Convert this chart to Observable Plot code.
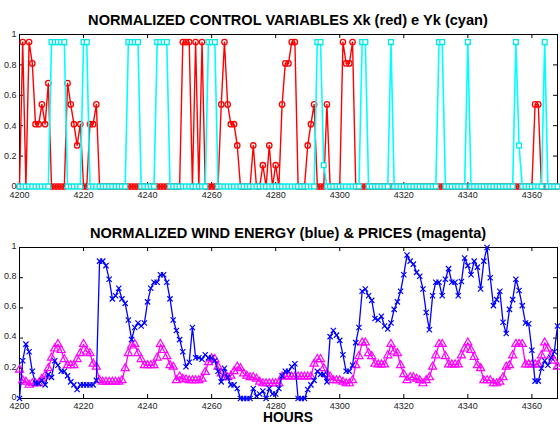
<!DOCTYPE html>
<html><head><meta charset="utf-8">
<script src="https://cdn.jsdelivr.net/npm/d3@7"></script>
<script src="https://cdn.jsdelivr.net/npm/@observablehq/plot@0.6"></script>
<style>
html,body{margin:0;padding:0;background:#fff;}
#chart{position:relative;width:560px;height:425px;overflow:hidden;background:#fff;font-family:"Liberation Sans",Arial,sans-serif;}
#chart .panel{position:absolute;left:0;}
.title{position:absolute;left:0;width:576px;text-align:center;font-weight:bold;font-size:14.6px;line-height:14.6px;white-space:nowrap;color:#000;}
.title.xlab{font-size:13.8px;line-height:13.8px;}
</style></head><body><div id="chart"></div>
<script>
// ---------- data ----------
const startHour = 4200;
const xTicks = [4200, 4220, 4240, 4260, 4280, 4300, 4320, 4340, 4360];
const yTicks = [0, 0.2, 0.4, 0.6, 0.8, 1];
const yTickLabels = ["0", "0.2", "0.4", "0.6", "0.8", "1"];

const topTitle = "NORMALIZED CONTROL VARIABLES Xk (red) e Yk (cyan)";
const bottomTitle = "NORMALIZED WIND ENERGY (blue) & PRICES (magenta)";
const xLabel = "HOURS";

// Xk (red), hours 4200..4368
const xk = [
  0, 0.95, 0, 0.95, 0.81, 0.41, 0.41, 0.54, 0.41, 0.68,          // 4200-4209
  0, 0, 0, 0, 0, 0.68, 0.54, 0.41, 0.27, 0.41,                    // 4210-4219
  0, 0, 0.41, 0.41, 0.54, 0, 0, 0, 0, 0,                          // 4220-4229
  0, 0, 0, 0, 0, 0, 0, 0, 0, 0,                                   // 4230-4239
  0, 0, 0, 0, 0, 0, 0, 0, 0, 0,                                   // 4240-4249
  0, 0.95, 0.95, 0.95, 0, 0.95, 0, 0.95, 0, 0,                    // 4250-4259
  0, 0, 0, 0.54, 0.95, 0.54, 0.41, 0.41, 0.27, 0,                 // 4260-4269
  0, 0, 0, 0.27, 0, 0, 0.14, 0, 0.27, 0,                          // 4270-4279
  0.14, 0, 0.54, 0.81, 0.81, 0.95, 0.95, 0, 0, 0,                 // 4280-4289
  0.27, 0.41, 0.54, 0, 0, 0, 0.54, 0, 0, 0,                       // 4290-4299
  0, 0.95, 0.81, 0.81, 0.95, 0, 0, 0, 0, 0,                       // 4300-4309
  0, 0, 0, 0, 0, 0, 0, 0, 0, 0,                                   // 4310-4319
  0, 0, 0, 0, 0, 0, 0, 0, 0, 0,                                   // 4320-4329
  0, 0, 0, 0, 0, 0, 0, 0, 0, 0,                                   // 4330-4339
  0, 0, 0, 0, 0, 0, 0, 0, 0, 0,                                   // 4340-4349
  0, 0, 0, 0, 0, 0, 0, 0, 0, 0,                                   // 4350-4359
  0, 0.54, 0.54, 0, 0, 0, 0, 0, 0                                 // 4360-4368
];

// Yk (cyan)
const yk = [
  0, 0, 0, 0, 0, 0, 0, 0, 0, 0,                                   // 4200
  0.95, 0.95, 0.95, 0.95, 0.95, 0, 0, 0, 0, 0,                    // 4210
  0.95, 0.95, 0, 0, 0, 0, 0, 0, 0, 0,                             // 4220
  0, 0, 0, 0, 0.95, 0.95, 0.95, 0.95, 0, 0,                       // 4230
  0, 0, 0, 0.95, 0.95, 0.95, 0.95, 0, 0, 0,                       // 4240
  0, 0, 0, 0, 0, 0, 0, 0, 0, 0.95,                                // 4250
  0.95, 0.95, 0, 0, 0, 0, 0, 0, 0, 0,                             // 4260
  0, 0, 0, 0, 0, 0, 0, 0, 0, 0,                                   // 4270
  0, 0, 0, 0, 0, 0, 0, 0, 0, 0,                                   // 4280
  0, 0, 0, 0.95, 0.95, 0.14, 0, 0, 0, 0,                          // 4290
  0, 0, 0, 0, 0, 0, 0, 0.95, 0.95, 0,                             // 4300
  0, 0, 0, 0, 0, 0, 0.95, 0, 0, 0,                                // 4310
  0, 0, 0, 0, 0, 0, 0, 0, 0, 0,                                   // 4320
  0, 0.95, 0.95, 0, 0, 0, 0, 0, 0, 0,                             // 4330
  0.95, 0, 0, 0, 0, 0, 0, 0, 0, 0,                                // 4340
  0, 0, 0, 0, 0, 0.95, 0.27, 0, 0, 0,                             // 4350
  0, 0, 0, 0, 0.95, 0, 0, 0, 0                                    // 4360
];

// normalized wind energy (blue)
const wind = [
  0, 0.25, 0.36, 0.31, 0.18, 0.10, 0.10, 0.12, 0.09, 0.16,        // 4200
  0.14, 0.25, 0.22, 0.18, 0.18, 0.15, 0.11, 0.09, 0.06, 0.09,     // 4210
  0.09, 0.09, 0.09, 0.09, 0.12, 0.91, 0.91, 0.88, 0.79, 0.66,     // 4220
  0.68, 0.73, 0.66, 0.63, 0.52, 0.39, 0.47, 0.50, 0.48, 0.50,     // 4230
  0.64, 0.73, 0.77, 0.77, 0.82, 0.82, 0.77, 0.66, 0.52, 0.45,     // 4240
  0.39, 0.31, 0.21, 0.24, 0.47, 0.27, 0.27, 0.26, 0.29, 0.27,     // 4250
  0.27, 0.25, 0.18, 0.11, 0.20, 0.14, 0.09, 0.09, 0.066, 0,       // 4260
  0, 0, 0, 0.066, 0.015, 0.03, 0.05, 0, 0.066, 0.03,              // 4270
  0.03, 0.066, 0.15, 0.18, 0.18, 0.21, 0.23, 0, 0, 0,             // 4280
  0.06, 0.09, 0.12, 0.18, 0.16, 0.16, 0.11, 0.41, 0.45, 0.42,     // 4290
  0.385, 0.29, 0.18, 0.18, 0.22, 0.37, 0.47, 0.71, 0.725, 0.68,   // 4300
  0.65, 0.53, 0.52, 0.545, 0.48, 0.46, 0.50, 0.59, 0.64, 0.71,    // 4310
  0.82, 0.95, 0.91, 0.89, 0.835, 0.81, 0.725, 0.57, 0.455, 0.68,  // 4320
  0.77, 0.77, 0.68, 0.79, 0.86, 0.77, 0.77, 0.68, 0.775, 0.93,    // 4330
  0.88, 0.82, 0.91, 0.87, 0.725, 0.91, 1.0, 0.80, 0.615, 0.655,   // 4340
  0.71, 0.505, 0.43, 0.59, 0.655, 0.79, 0.715, 0.615, 0.50, 0.495,// 4350
  0.32, 0.115, 0.115, 0.20, 0.25, 0.22, 0.27, 0.31, 0.48          // 4360
];

// normalized prices (magenta)
const prices = [
  0.19, 0.12, 0.11, 0.09, 0.10, 0.10, 0.10, 0.13, 0.15, 0.20,     // 4200
  0.27, 0.33, 0.36, 0.32, 0.26, 0.22, 0.22, 0.22, 0.26, 0.30,     // 4210
  0.36, 0.31, 0.30, 0.23, 0.21, 0.12, 0.11, 0.11, 0.11, 0.11,     // 4220
  0.11, 0.11, 0.12, 0.20, 0.30, 0.35, 0.36, 0.30, 0.26, 0.22,     // 4230
  0.22, 0.22, 0.22, 0.27, 0.36, 0.32, 0.28, 0.22, 0.21, 0.12,     // 4240
  0.145, 0.13, 0.125, 0.12, 0.12, 0.12, 0.12, 0.13, 0.175, 0.24,  // 4250
  0.265, 0.26, 0.21, 0.165, 0.14, 0.14, 0.15, 0.18, 0.21, 0.20,   // 4260
  0.165, 0.15, 0.14, 0.14, 0.13, 0.11, 0.10, 0.10, 0.10, 0.10,    // 4270
  0.10, 0.10, 0.145, 0.145, 0.145, 0.145, 0.145, 0.145, 0.145, 0.145, // 4280
  0.145, 0.145, 0.23, 0.26, 0.26, 0.20, 0.16, 0.145, 0.12, 0.12,  // 4290
  0.12, 0.11, 0.10, 0.10, 0.12, 0.22, 0.28, 0.37, 0.37, 0.30,     // 4300
  0.28, 0.23, 0.225, 0.225, 0.225, 0.285, 0.36, 0.31, 0.30, 0.22, // 4310
  0.16, 0.12, 0.14, 0.14, 0.13, 0.12, 0.10, 0.12, 0.14, 0.21,     // 4320
  0.285, 0.36, 0.36, 0.28, 0.225, 0.225, 0.225, 0.225, 0.285, 0.33, // 4330
  0.37, 0.32, 0.275, 0.22, 0.20, 0.12, 0.12, 0.12, 0.10, 0.10,    // 4340
  0.11, 0.14, 0.21, 0.22, 0.285, 0.36, 0.36, 0.36, 0.225, 0.225,  // 4350
  0.225, 0.225, 0.225, 0.285, 0.37, 0.33, 0.285, 0.25, 0.21       // 4360
];

// ---------- tables ----------
const topRows = xk.map((v, i) => ({hour: startHour + i, xk: v, yk: yk[i]}));
const botRows = wind.map((v, i) => ({hour: startHour + i, wind: v, price: prices[i]}));

const font = '"Liberation Sans", Arial, sans-serif';
const W = 560, ML = 19, MR = 3;
const plotW = W - ML - MR;
const tick = 4;

function boxMarks(plotH, xPad, yDy) {
  return [
    Plot.ruleX(xTicks, {stroke: "#000", strokeWidth: 1, insetTop: plotH - tick}),
    Plot.ruleX(xTicks, {stroke: "#000", strokeWidth: 1, insetBottom: plotH - tick}),
    Plot.ruleY(yTicks, {stroke: "#000", strokeWidth: 1, insetRight: plotW - tick}),
    Plot.ruleY(yTicks, {stroke: "#000", strokeWidth: 1, insetLeft: plotW - tick}),
    Plot.frame({stroke: "#000", strokeWidth: 1}),
    Plot.axisX(xTicks, {tickSize: 0, tickPadding: xPad, tickFormat: d => String(d), label: null, fontSize: 9, fill: "#222"}),
    Plot.axisY(yTicks, {tickSize: 0, tickPadding: 3, dy: yDy, tickFormat: d => yTickLabels[yTicks.indexOf(d)], label: null, fontSize: 9, fill: "#222"})
  ];
}

const timesSym = d3.symbolTimes || "cross";

const topH = 205, topMT = 34, topMB = 19;
const topPlot = Plot.plot({
  width: W, height: topH,
  marginLeft: ML, marginRight: MR, marginTop: topMT, marginBottom: topMB,
  style: {fontFamily: font, fontSize: "9px", background: "transparent", overflow: "visible"},
  x: {domain: [4200, 4368], axis: null},
  y: {domain: [0, 1], axis: null},
  marks: [
    ...boxMarks(topH - topMT - topMB, 5, 0),
    Plot.line(topRows, {x: "hour", y: "xk", stroke: "#ff0000", strokeWidth: 1.4}),
    Plot.dot(topRows, {x: "hour", y: "xk", r: 2.7, stroke: "#ff0000", fill: "none", strokeWidth: 1.3}),
    Plot.line(topRows, {x: "hour", y: "yk", stroke: "#00ffff", strokeWidth: 1.6}),
    Plot.dot(topRows, {x: "hour", y: "yk", symbol: "square", r: 2.7, stroke: "#00e8e8", fill: "#ffffff", strokeWidth: 1.3})
  ]
});

const botTop = 205, botH = 220, botMT = 42, botMB = 27;
const botPlot = Plot.plot({
  width: W, height: botH,
  marginLeft: ML, marginRight: MR, marginTop: botMT, marginBottom: botMB,
  style: {fontFamily: font, fontSize: "9px", background: "transparent", overflow: "visible"},
  x: {domain: [4200, 4368], axis: null},
  y: {domain: [0, 1], axis: null},
  marks: [
    ...boxMarks(botH - botMT - botMB, 4, -1.5),
    Plot.line(botRows, {x: "hour", y: "price", stroke: "#ff00ff", strokeWidth: 1.3}),
    Plot.dot(botRows, {x: "hour", y: "price", symbol: "triangle", r: 3, stroke: "#ff00ff", fill: "none", strokeWidth: 1.2}),
    Plot.line(botRows, {x: "hour", y: "wind", stroke: "#0000ff", strokeWidth: 1.3}),
    Plot.dot(botRows, {x: "hour", y: "wind", symbol: timesSym, r: 2.5, stroke: "#0000ff", fill: "none", strokeWidth: 1.2})
  ]
});

const chart = document.getElementById("chart");
topPlot.classList.add("panel");
topPlot.style.top = "0px";
botPlot.classList.add("panel");
botPlot.style.top = botTop + "px";
chart.appendChild(topPlot);
chart.appendChild(botPlot);

function addText(txt, top, extra) {
  const d = document.createElement("div");
  d.className = "title" + (extra ? " " + extra : "");
  d.style.top = top + "px";
  d.textContent = txt;
  chart.appendChild(d);
}
addText(topTitle, 13.4);
addText(bottomTitle, 226.2);
addText(xLabel, 411, "xlab");
</script></body></html>
